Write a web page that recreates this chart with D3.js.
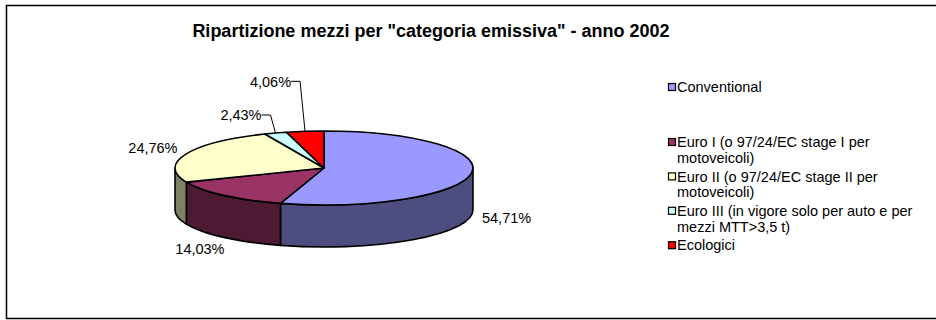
<!DOCTYPE html>
<html>
<head>
<meta charset="utf-8">
<script src="https://cdn.jsdelivr.net/npm/d3@7/dist/d3.min.js"></script>
<style>
  html, body { margin: 0; padding: 0; background: #fff; }
  svg { display: block; font-family: "Liberation Sans", Arial, sans-serif; }
</style>
</head>
<body>
<svg id="chart" width="936" height="320"></svg>
<script>
// Vehicle fleet by emission category, year 2002 (percent shares)
const categories = [
  "Conventional",
  "Euro I (o 97/24/EC stage I per motoveicoli)",
  "Euro II (o 97/24/EC stage II per motoveicoli)",
  "Euro III (in vigore solo per auto e per mezzi MTT>3,5 t)",
  "Ecologici"
];
const shares = [54.71, 14.03, 24.76, 2.43, 4.06];

// Face colours (top) and wall colours (side) for each slice
const topColors  = ["#9999FF", "#993366", "#FFFFCC", "#CCFFFF", "#FF0000"];
const sideColors = ["#4D4D80", "#4D1A33", "#808066", "#668080", "#800000"];

const titleText = "Ripartizione mezzi per \"categoria emissiva\" - anno 2002";

const svg = d3.select("#chart");
const W = 936, H = 320;

// outer frame
svg.append("rect")
  .attr("x", 6.5).attr("y", 5.5)
  .attr("width", W + 10).attr("height", H - 7)
  .attr("fill", "#fff").attr("stroke", "#000").attr("stroke-width", 1.5);

svg.append("text")
  .attr("x", 431).attr("y", 36.5)
  .attr("text-anchor", "middle")
  .attr("font-size", 18).attr("font-weight", "bold")
  .attr("fill", "#000")
  .text(titleText);

// 3D pie geometry
const cx = 324, cy = 168, rx = 149, ry = 37, depth = 42;
const pt = (t, dy = 0) => [cx + rx * Math.sin(t), cy - ry * Math.cos(t) + dy];

const pie = d3.pie().sort(null).value(d => d).startAngle(0).endAngle(2 * Math.PI);
const arcs = pie(shares);

const itFmt = d3.formatLocale({ decimal: ",", thousands: ".", grouping: [3], currency: ["€", ""] }).format(".2f");

const g = svg.append("g");

// side walls (front half only: t in [π/2, 3π/2])
arcs.forEach((a, i) => {
  const s = Math.max(a.startAngle, Math.PI / 2);
  const e = Math.min(a.endAngle, 3 * Math.PI / 2);
  if (s >= e) return;
  const [x0, y0] = pt(s), [x1, y1] = pt(e);
  const [x2, y2] = pt(e, depth), [x3, y3] = pt(s, depth);
  const d = `M${x0},${y0} A${rx},${ry} 0 0 1 ${x1},${y1} L${x2},${y2} A${rx},${ry} 0 0 0 ${x3},${y3} Z`;
  g.append("path").attr("d", d)
    .attr("fill", sideColors[i]).attr("stroke", "#000")
    .attr("stroke-width", 1.6).attr("stroke-linejoin", "round");
});

// top faces
arcs.forEach((a, i) => {
  const [x0, y0] = pt(a.startAngle), [x1, y1] = pt(a.endAngle);
  const large = (a.endAngle - a.startAngle) > Math.PI ? 1 : 0;
  const d = `M${cx},${cy} L${x0},${y0} A${rx},${ry} 0 ${large} 1 ${x1},${y1} Z`;
  g.append("path").attr("d", d)
    .attr("fill", topColors[i]).attr("stroke", "#000")
    .attr("stroke-width", 1.6).attr("stroke-linejoin", "round");
});

// data labels
const labelFont = 14.5;
const lg = svg.append("g").attr("font-size", labelFont).attr("fill", "#000");
let smallIdx = 0;
arcs.forEach((a, i) => {
  const t = (a.startAngle + a.endAngle) / 2;
  const txt = itFmt(a.data) + "%";
  if (a.data < 5) {
    // small slices: label raised above the pie with a leader line
    const [sx, sy] = pt(t);
    const ex = sx - 5, ey = sy - 18 - smallIdx * 32;
    const lx = ex - 9;
    lg.append("path")
      .attr("d", `M${lx},${ey} L${ex},${ey} L${sx},${sy}`)
      .attr("fill", "none").attr("stroke", "#000").attr("stroke-width", 1);
    lg.append("text")
      .attr("x", lx).attr("y", ey).attr("dy", "0.36em")
      .attr("text-anchor", "end").text(txt);
    smallIdx++;
    return;
  }
  const sn = Math.sin(t), cs = -Math.cos(t);
  const ax = cx + (rx + 11) * sn;
  const ay = cy + (ry + 8) * cs + (cs > 0 ? depth : 0);
  const el = lg.append("text").attr("text-anchor", "middle").attr("dy", "0.36em").text(txt);
  const w = el.node().getComputedTextLength();
  el.attr("x", ax + sn * w / 2).attr("y", ay + cs * 8);
});

// legend
const legX = 668, legTextX = 677, lineH = 15.6, maxW = 252;
const leg = svg.append("g").attr("font-size", 14.5).attr("fill", "#000");
const rowY = i => i === 0 ? 87 : 142 + (i - 1) * 34.4;
categories.forEach((c, i) => {
  const y = rowY(i);
  leg.append("rect")
    .attr("x", legX + 0.5).attr("y", y - 3.5)
    .attr("width", 7).attr("height", 7)
    .attr("fill", topColors[i]).attr("stroke", "#000").attr("stroke-width", 1.2);
  const text = leg.append("text").attr("x", legTextX).attr("y", y);
  const words = c.split(" ");
  let line = [];
  let tspan = text.append("tspan").attr("x", legTextX).attr("dy", "0.36em");
  words.forEach(wd => {
    line.push(wd);
    tspan.text(line.join(" "));
    if (tspan.node().getComputedTextLength() > maxW && line.length > 1) {
      line.pop();
      tspan.text(line.join(" "));
      line = [wd];
      tspan = text.append("tspan").attr("x", legTextX).attr("dy", lineH).text(wd);
    }
  });
});
</script>
</body>
</html>
